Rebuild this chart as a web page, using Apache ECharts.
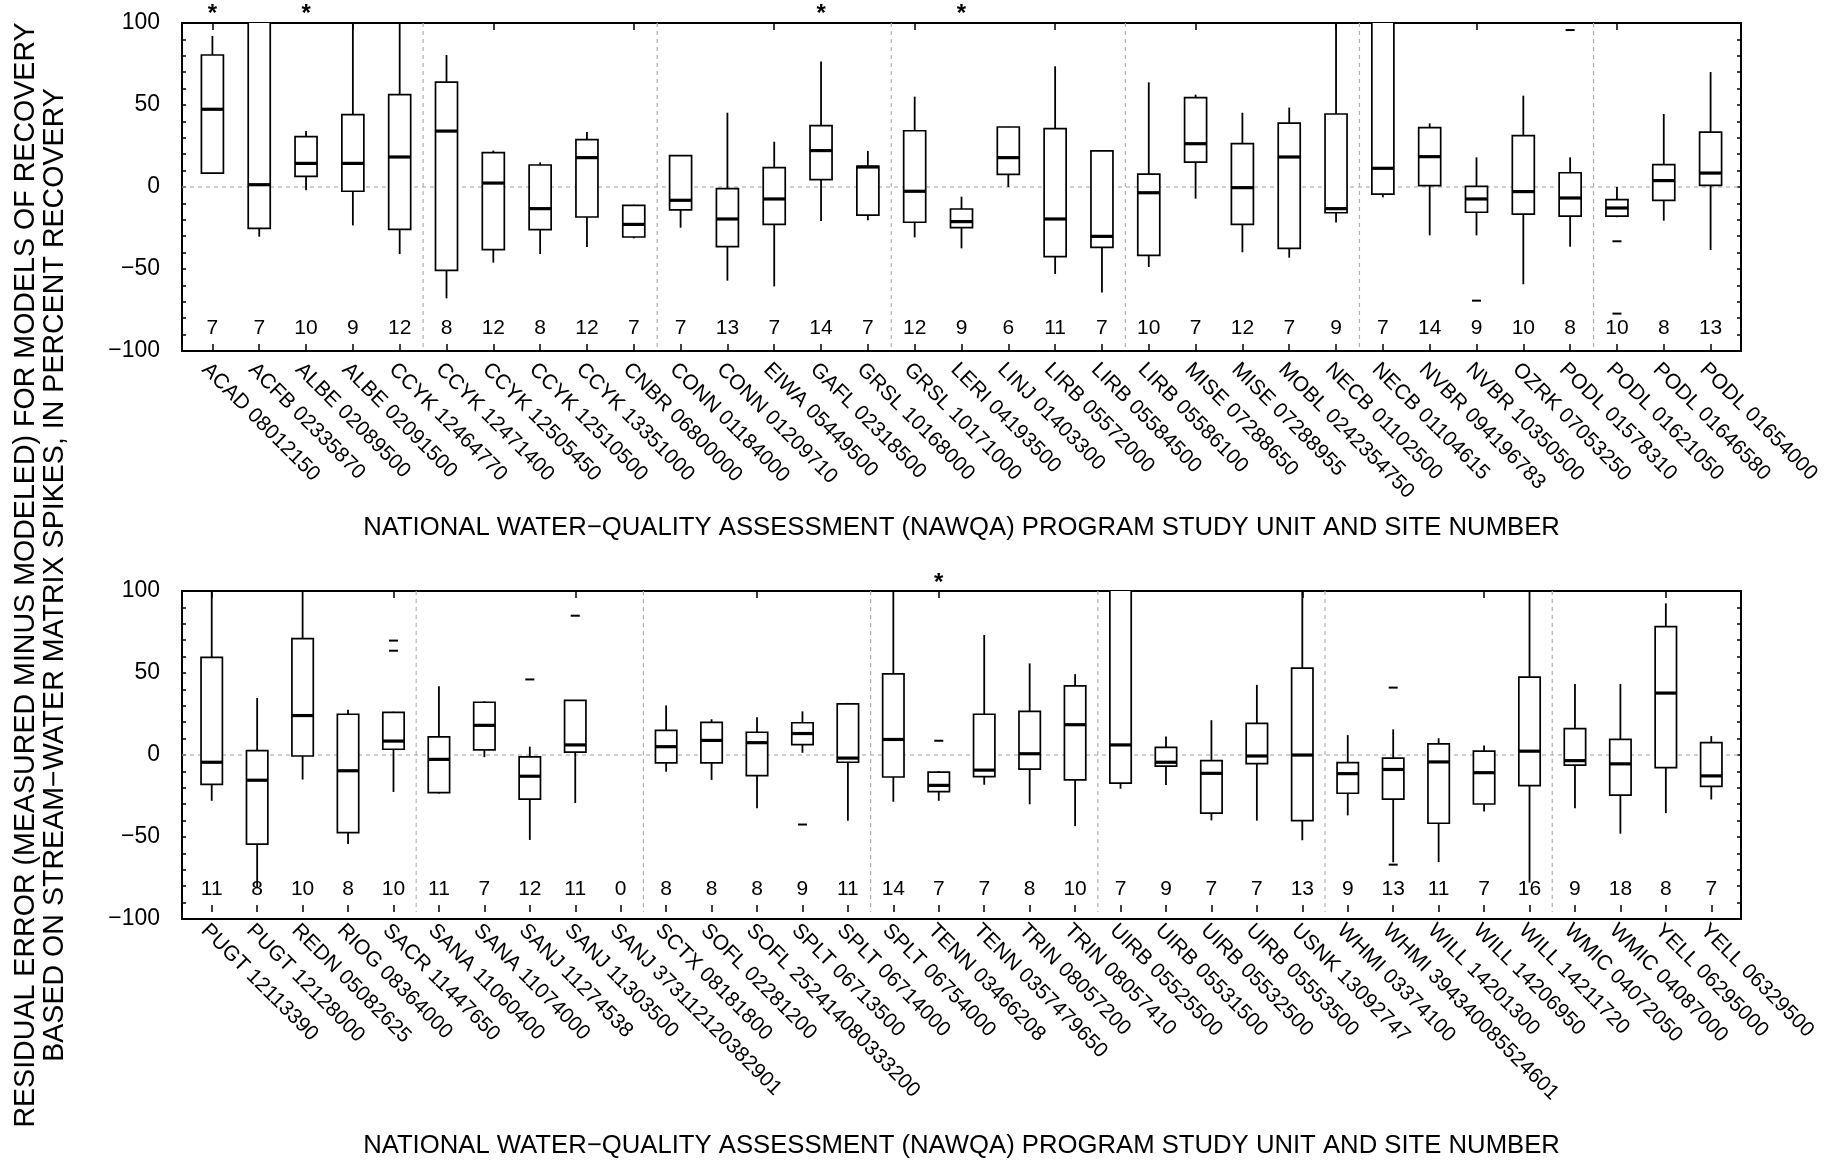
<!DOCTYPE html>
<html>
<head>
<meta charset="utf-8">
<script src="https://cdn.jsdelivr.net/npm/echarts@6/dist/echarts.min.js"></script>
<style>
  html, body { margin: 0; padding: 0; background: #fff; }
  #chart { width: 1843px; height: 1160px; }
</style>
</head>
<body>
<div id="chart"></div>
<script>
// ---------------- Upper panel: study units ACAD .. PODL ----------------
const sitesTop = [
  'ACAD 08012150', 'ACFB 02335870', 'ALBE 02089500', 'ALBE 02091500', 'CCYK 12464770',
  'CCYK 12471400', 'CCYK 12505450', 'CCYK 12510500', 'CCYK 13351000', 'CNBR 06800000',
  'CONN 01184000', 'CONN 01209710', 'EIWA 05449500', 'GAFL 02318500', 'GRSL 10168000',
  'GRSL 10171000', 'LERI 04193500', 'LINJ 01403300', 'LIRB 05572000', 'LIRB 05584500',
  'LIRB 05586100', 'MISE 07288650', 'MISE 07288955', 'MOBL 0242354750', 'NECB 01102500',
  'NECB 01104615', 'NVBR 094196783', 'NVBR 10350500', 'OZRK 07053250', 'PODL 01578310',
  'PODL 01621050', 'PODL 01646580', 'PODL 01654000'
];
const countsTop = [7, 7, 10, 9, 12, 8, 12, 8, 12, 7, 7, 13, 7, 14, 7, 12, 9, 6, 11, 7,
  10, 7, 12, 7, 9, 7, 14, 9, 10, 8, 10, 8, 13];
const lowTop = [8.1, -30.3, -2.0, -23.4, -40.9, -67.9, -46.1, -40.9, -36.6, -31.3,
  -24.8, -57.1, -60.6, -20.7, -20.3, -30.7, -37.4, 0.0, -53.0, -64.4,
  -48.8, -7.1, -39.8, -43.1, -21.7, -6.3, -29.5, -29.5, -59.3, -36.4,
  -18.5, -20.5, -38.4];
const q1Top = [8.5, -25.2, 6.5, -2.6, -25.8, -50.8, -38.2, -26.0, -18.3, -30.5,
  -14.0, -36.4, -22.8, 4.5, -17.1, -21.5, -24.8, 7.7, -42.5, -36.8,
  -41.7, 15.2, -22.8, -37.4, -15.7, -4.3, 0.8, -15.4, -16.5, -17.7,
  -17.7, -8.1, 1.0];
const medianTop = [47.4, 1.4, 14.4, 14.4, 18.3, 34.1, 2.4, -13.2, 17.9, -22.8,
  -8.1, -19.5, -7.3, 22.2, 12.2, -2.6, -21.1, 17.9, -19.5, -30.1,
  -3.5, 26.4, -0.4, 18.3, -13.2, 11.4, 18.5, -7.3, -2.8, -6.7,
  -12.8, 3.9, 8.5];
const q3Top = [80.5, 120, 30.7, 44.1, 56.3, 64.0, 20.9, 13.4, 28.9, -11.2,
  19.1, -1.0, 11.8, 37.4, 12.6, 34.3, -13.4, 36.6, 35.6, 22.0,
  7.9, 54.5, 26.4, 39.0, 44.5, 125, 36.2, 0.4, 31.3, 8.7,
  -7.7, 13.6, 33.5];
const highTop = [92.1, 160, 34.1, 130, 125, 80.5, 22.2, 15.0, 33.5, -10.8,
  19.3, 45.3, 27.6, 76.6, 22.0, 55.1, -5.9, 36.8, 73.6, 22.6,
  63.8, 56.3, 45.3, 48.4, 140, 170, 38.8, 18.1, 55.7, 18.1,
  0.0, 44.5, 70.1];
// [site index, value]
const outliersTop = [[26, 100], [27, -69.3], [29, 95.7], [30, -33.1], [30, -77.2]];
const flaggedTop = [0, 2, 13, 16];

// ---------------- Lower panel: study units PUGT .. YELL ----------------
const sitesBottom = [
  'PUGT 12113390', 'PUGT 12128000', 'REDN 05082625', 'RIOG 08364000', 'SACR 11447650',
  'SANA 11060400', 'SANA 11074000', 'SANJ 11274538', 'SANJ 11303500', 'SANJ 373112120382901',
  'SCTX 08181800', 'SOFL 02281200', 'SOFL 252414080333200', 'SPLT 06713500', 'SPLT 06714000',
  'SPLT 06754000', 'TENN 03466208', 'TENN 0357479650', 'TRIN 08057200', 'TRIN 08057410',
  'UIRB 05525500', 'UIRB 05531500', 'UIRB 05532500', 'UIRB 05553500', 'USNK 13092747',
  'WHMI 03374100', 'WHMI 394340085524601', 'WILL 14201300', 'WILL 14206950', 'WILL 14211720',
  'WMIC 04072050', 'WMIC 04087000', 'YELL 06295000', 'YELL 06329500'
];
const countsBottom = [11, 8, 10, 8, 10, 11, 7, 12, 11, 0, 8, 8, 8, 9, 11, 14, 7, 7, 8, 10,
  7, 9, 7, 7, 13, 9, 13, 11, 7, 16, 9, 18, 8, 7];
const lowBottom = [-30.7, -85.0, -17.5, -57.7, -25.2, -26.2, -3.5, -55.1, -32.1, null,
  -12.6, -17.7, -35.4, -0.8, -43.1, -31.3, -30.7, -20.7, -32.9, -46.5,
  -23.2, -20.9, -42.9, -43.1, -55.3, -39.8, -69.0, -68.9, -37.4, -81.7,
  -35.4, -51.2, -38.4, -29.9];
const q1Bottom = [-20.5, -57.7, -2.8, -50.6, 1.4, -25.6, 1.0, -29.7, -0.4, null,
  -7.1, -7.1, -15.0, 4.3, -6.7, -15.9, -25.0, -15.7, -11.0, -17.7,
  -19.7, -9.1, -38.4, -7.5, -43.1, -26.0, -29.7, -44.7, -32.7, -21.3,
  -8.5, -27.2, -10.0, -21.7];
const medianBottom = [-6.7, -17.9, 22.4, -12.0, 6.5, -4.9, 16.3, -15.4, 4.1, null,
  3.0, 6.9, 5.5, 11.2, -4.1, 7.5, -21.1, -11.6, -1.4, 16.7,
  4.1, -6.7, -13.6, -2.8, -2.2, -13.8, -11.2, -6.5, -13.2, 0.2,
  -5.7, -7.7, 36.4, -15.2];
const q3Bottom = [58.7, 0.6, 70.3, 23.2, 24.4, 9.1, 30.7, -3.3, 31.9, null,
  13.2, 18.1, 12.0, 17.9, 29.7, 48.4, -12.8, 23.2, 25.0, 40.9,
  125, 2.6, -5.7, 17.5, 52.0, -6.9, -4.1, 4.7, 0.2, 46.3,
  14.2, 7.5, 77.8, 5.5];
const highBottom = [130, 33.3, 125, 26.0, 24.8, 40.7, 31.3, 3.0, 32.1, null,
  28.7, 20.1, 21.3, 25.0, 30.3, 140, -12.2, 72.6, 54.9, 48.2,
  160, 9.3, 19.5, 41.5, 130, 10.2, 13.8, 8.3, 3.7, 130,
  42.1, 42.1, 92.3, 9.6];
const outliersBottom = [[4, 69.1], [4, 62.8], [7, 44.9], [8, 84.6], [13, -45.5], [14, 100],
  [16, 6.7], [26, 39.8], [26, -70.5]];
const flaggedBottom = [16];

// ---------------- Axis text ----------------
const yTickValues = [-100, -50, 0, 50, 100];
const xTitle = 'NATIONAL WATER\u2212QUALITY ASSESSMENT (NAWQA) PROGRAM STUDY UNIT AND SITE NUMBER';
const yTitleLines = [
  'RESIDUAL ERROR (MEASURED MINUS MODELED) FOR MODELS OF RECOVERY',
  'BASED ON STREAM\u2212WATER MATRIX SPIKES, IN PERCENT RECOVERY'
];

const FONT = '"Liberation Sans", Arial, Helvetica, sans-serif';
const COUNT_LEVEL = -86;   // height of the sample-size row
const FLAG_LEVEL = 105;    // height of the asterisks above the frame
const GROUP_SIZE = 5;      // dashed separator after every fifth site
const GUIDE = '#b0b0b0';

function fmtTick(v) {
  if (yTickValues.indexOf(v) < 0) return '';
  return v < 0 ? '\u2212' + Math.abs(v) : String(v);
}

function renderBox(params, api) {
  const i = api.value(0);
  const lo = api.coord([i, api.value(1)]);
  const q1 = api.coord([i, api.value(2)]);
  const md = api.coord([i, api.value(3)]);
  const q3 = api.coord([i, api.value(4)]);
  const hi = api.coord([i, api.value(5)]);
  const cx = md[0];
  const w = api.size([1, 0])[0] * 0.47;
  return {
    type: 'group',
    children: [
      { type: 'line', shape: { x1: cx, y1: q3[1], x2: cx, y2: hi[1] }, style: { stroke: '#000', lineWidth: 1.8 } },
      { type: 'line', shape: { x1: cx, y1: q1[1], x2: cx, y2: lo[1] }, style: { stroke: '#000', lineWidth: 1.8 } },
      { type: 'rect', shape: { x: cx - w / 2, y: q3[1], width: w, height: q1[1] - q3[1] },
        style: { fill: '#fff', stroke: '#000', lineWidth: 1.7 } },
      { type: 'line', shape: { x1: cx - w / 2, y1: md[1], x2: cx + w / 2, y2: md[1] },
        style: { stroke: '#000', lineWidth: 3.2 } }
    ]
  };
}

function renderOutlier(params, api) {
  const p = api.coord([api.value(0), api.value(1)]);
  return { type: 'line', shape: { x1: p[0] - 4.5, y1: p[1], x2: p[0] + 4.5, y2: p[1] },
    style: { stroke: '#000', lineWidth: 2 } };
}

function textItem(txt, p, size, weight) {
  return {
    type: 'text',
    style: {
      text: txt, x: p[0], y: p[1],
      textAlign: 'center', textVerticalAlign: 'middle', align: 'center', verticalAlign: 'middle',
      fontSize: size, fontWeight: weight || 'normal', fontFamily: FONT, fill: '#000'
    }
  };
}

function renderCount(params, api) {
  return textItem(String(api.value(1)), api.coord([api.value(0), COUNT_LEVEL]), 21);
}

function renderFlag(params, api) {
  return textItem('*', api.coord([api.value(0), FLAG_LEVEL]), 24, 'bold');
}

function renderSeparator(params, api) {
  const i = api.value(0);
  const half = api.size([1, 0])[0] / 2;
  const top = api.coord([i, 100]);
  const bot = api.coord([i, -100]);
  const x = top[0] - half;
  return { type: 'line', shape: { x1: x, y1: top[1], x2: x, y2: bot[1] },
    style: { stroke: GUIDE, lineWidth: 1.2, lineDash: [4, 4] } };
}

const panels = [
  { sites: sitesTop, counts: countsTop, low: lowTop, q1: q1Top, med: medianTop, q3: q3Top,
    high: highTop, outliers: outliersTop, flagged: flaggedTop, top: 23, nameGap: 164 },
  { sites: sitesBottom, counts: countsBottom, low: lowBottom, q1: q1Bottom, med: medianBottom,
    q3: q3Bottom, high: highBottom, outliers: outliersBottom, flagged: flaggedBottom, top: 591, nameGap: 221 }
];

const option = {
  animation: false,
  backgroundColor: '#fff',
  grid: [], xAxis: [], yAxis: [], series: [],
  graphic: yTitleLines.map((line, k) => ({
    type: 'text', x: 26 + k * 29, y: 575, rotation: Math.PI / 2,
    style: { text: line, fontSize: 28.6, fontFamily: FONT, fill: '#000',
      textAlign: 'center', textVerticalAlign: 'middle', align: 'center', verticalAlign: 'middle' }
  }))
};

panels.forEach(p => {
  const gFrame = option.grid.length;
  option.grid.push({ left: 182, top: p.top, width: 1559, height: 328, show: true,
    borderColor: '#000', borderWidth: 2, backgroundColor: 'rgba(0,0,0,0)' });
  const gData = option.grid.length;
  option.grid.push({ left: 189, top: p.top, width: 1545, height: 328 });

  const xFrame = option.xAxis.length;
  option.xAxis.push({ gridIndex: gFrame, type: 'value', min: 0, max: 1, show: false,
    axisLine: { onZero: false } });
  const xData = option.xAxis.length;
  option.xAxis.push({
    gridIndex: gData, type: 'category', data: p.sites, position: 'bottom', boundaryGap: true,
    axisLine: { show: false, onZero: false },
    axisTick: { show: true, inside: true, alignWithLabel: true, length: 7,
      lineStyle: { color: '#000', width: 1.5 } },
    axisLabel: { interval: 0, rotate: -45, margin: 8, fontSize: 21, fontFamily: FONT, color: '#000',
      verticalAlign: 'top' },
    splitLine: { show: false },
    name: xTitle, nameLocation: 'middle', nameGap: p.nameGap,
    nameTextStyle: { fontSize: 25.7, fontFamily: FONT, color: '#000' }
  });
  option.xAxis.push({
    gridIndex: gData, type: 'category', data: p.sites, position: 'top', boundaryGap: true,
    axisLine: { show: false, onZero: false },
    axisTick: { show: true, inside: true, alignWithLabel: true, length: 7,
      lineStyle: { color: '#000', width: 1.5 } },
    axisLabel: { show: false }, splitLine: { show: false }
  });

  const yFrame = option.yAxis.length;
  option.yAxis.push({
    gridIndex: gFrame, type: 'value', position: 'left', min: -100, max: 100, interval: 10,
    axisLine: { show: true, onZero: false, lineStyle: { color: '#000', width: 2 } },
    axisTick: { show: true, inside: true, length: 4, lineStyle: { color: '#000', width: 1.5 } },
    axisLabel: { formatter: fmtTick, margin: 22, fontSize: 23, fontFamily: FONT, color: '#000' },
    splitLine: { show: false }
  });
  option.yAxis.push({
    gridIndex: gFrame, type: 'value', position: 'right', min: -100, max: 100, interval: 10,
    axisLine: { show: true, onZero: false, lineStyle: { color: '#000', width: 2 } },
    axisTick: { show: true, inside: true, length: 4, lineStyle: { color: '#000', width: 1.5 } },
    axisLabel: { show: false }, splitLine: { show: false }
  });
  const yData = option.yAxis.length;
  option.yAxis.push({ gridIndex: gData, type: 'value', min: -100, max: 100, show: false,
    axisLine: { onZero: false } });

  const boxRows = [];
  p.sites.forEach((s, i) => {
    if (p.med[i] !== null) boxRows.push([i, p.low[i], p.q1[i], p.med[i], p.q3[i], p.high[i]]);
  });
  const separators = p.sites.map((s, i) => i).filter(i => i > 0 && i % GROUP_SIZE === 0).map(i => [i, 0]);

  option.series.push(
    { type: 'line', xAxisIndex: xFrame, yAxisIndex: yFrame, data: [[0, 0], [1, 0]],
      symbol: 'none', silent: true, z: 1,
      lineStyle: { color: GUIDE, width: 1.2, type: [4, 4] } },
    { type: 'custom', xAxisIndex: xData, yAxisIndex: yData, data: separators,
      renderItem: renderSeparator, silent: true, z: 1, encode: { x: 0, y: 1 } },
    { type: 'custom', xAxisIndex: xData, yAxisIndex: yData, data: boxRows, clip: true,
      renderItem: renderBox, z: 3, encode: { x: 0, y: [1, 2, 3, 4, 5] } },
    { type: 'custom', xAxisIndex: xData, yAxisIndex: yData, data: p.outliers,
      renderItem: renderOutlier, z: 4, encode: { x: 0, y: 1 } },
    { type: 'custom', xAxisIndex: xData, yAxisIndex: yData,
      data: p.counts.map((n, i) => [i, n]),
      renderItem: renderCount, z: 4, encode: { x: 0 } },
    { type: 'custom', xAxisIndex: xData, yAxisIndex: yData,
      data: p.flagged.map(i => [i, FLAG_LEVEL]),
      renderItem: renderFlag, z: 4, clip: false, encode: { x: 0, y: 1 } }
  );
});

const chart = echarts.init(document.getElementById('chart'), null, { renderer: 'canvas' });
chart.setOption(option);
</script>
</body>
</html>
